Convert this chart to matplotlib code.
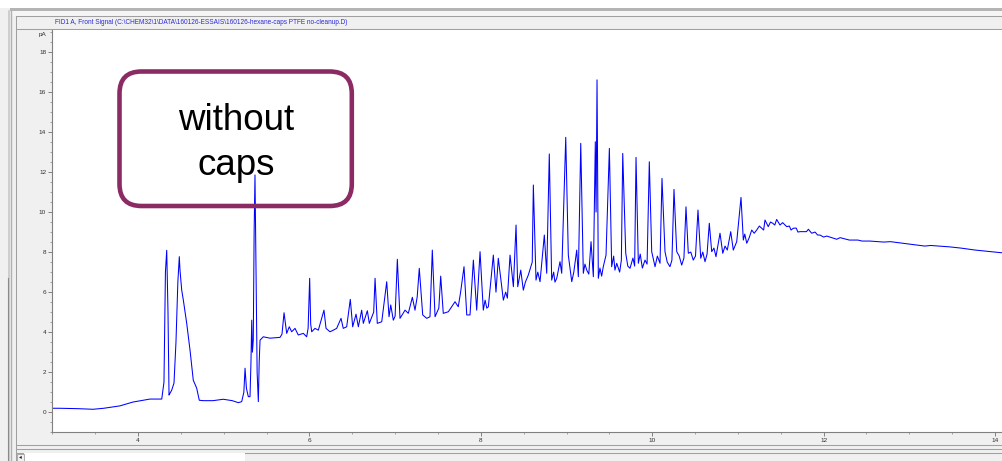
import numpy as np
import matplotlib
matplotlib.use("Agg")
import matplotlib.pyplot as plt
from matplotlib.patches import Rectangle, FancyBboxPatch
from matplotlib.lines import Line2D
from matplotlib.transforms import IdentityTransform
from matplotlib.ticker import MultipleLocator

plt.rcParams["font.family"] = ["Liberation Sans", "DejaVu Sans"]

# FID trace: retention time (min) and signal (pA), peaks and valleys
time_min = [
    3.00, 3.09, 3.30, 3.475, 3.60, 3.79, 3.94, 4.14, 4.277, 4.303,
    4.32, 4.335, 4.35, 4.362, 4.373, 4.393, 4.42, 4.443, 4.465, 4.482,
    4.49, 4.51, 4.529, 4.568, 4.607, 4.645, 4.685, 4.715, 4.762, 4.875,
    4.995, 5.10, 5.17, 5.21, 5.235, 5.249, 5.265, 5.287, 5.307, 5.318,
    5.327, 5.335, 5.345, 5.355, 5.365, 5.375, 5.390, 5.404, 5.414, 5.424,
    5.462, 5.54, 5.657, 5.68, 5.704, 5.735, 5.765, 5.793, 5.832, 5.87,
    5.929, 5.968, 5.985, 6.003, 6.015, 6.027, 6.065, 6.104, 6.132, 6.17,
    6.194, 6.24, 6.279, 6.318, 6.369, 6.395, 6.435, 6.477, 6.505, 6.544,
    6.571, 6.61, 6.629, 6.676, 6.699, 6.75, 6.766, 6.792, 6.844, 6.902,
    6.929, 6.949, 6.979, 7.00, 7.026, 7.057, 7.116, 7.154, 7.201, 7.232,
    7.258, 7.282, 7.322, 7.369, 7.407, 7.434, 7.466, 7.51, 7.532, 7.562,
    7.621, 7.66, 7.699, 7.737, 7.765, 7.804, 7.836, 7.874, 7.913, 7.952,
    7.991, 8.029, 8.088, 8.146, 8.177, 8.204, 8.263, 8.341, 8.38, 8.411,
    8.431, 8.466, 8.496, 8.554, 8.60, 8.613, 8.644, 8.691, 8.741, 8.769,
    8.799, 8.827, 8.886, 8.924, 8.944, 8.991, 9.021, 9.061, 9.119, 9.138,
    9.166, 9.196, 9.236, 9.286, 9.313, 9.336, 9.345, 9.356, 9.371, 9.429,
    9.461, 9.50, 9.527, 9.586, 9.656, 9.691, 9.741, 9.811, 9.838, 9.916,
    9.966, 9.994, 10.033, 10.091, 10.114, 10.149, 10.207, 10.254, 10.286, 10.344,
    10.394, 10.421, 10.479, 10.534, 10.566, 10.616, 10.666, 10.694, 10.744, 10.791,
    10.823, 10.876, 10.916, 10.946, 10.986, 11.036, 11.063, 11.103, 11.161, 11.19,
    11.219, 11.278, 11.316, 11.354, 11.406, 11.452, 11.491, 11.522, 11.569, 11.646,
    11.725, 11.80, 11.822, 11.861, 11.958, 12.036, 12.095, 12.153, 12.192, 12.30,
    12.54, 12.70, 12.89, 13.00, 13.18, 13.25, 13.47, 13.77, 14.09,
]
signal_pa = [
    0.20, 0.20, 0.18, 0.15, 0.20, 0.32, 0.51, 0.66, 0.66, 1.50,
    7.00, 8.09, 5.00, 0.86, 0.95, 1.10, 1.46, 3.50, 6.50, 7.77,
    7.10, 6.10, 5.60, 4.45, 3.10, 1.60, 1.20, 0.60, 0.58, 0.58,
    0.65, 0.58, 0.48, 0.53, 1.00, 2.20, 1.20, 0.78, 0.78, 2.50,
    4.60, 3.00, 3.60, 9.00, 11.85, 8.00, 2.00, 0.53, 2.50, 3.60,
    3.77, 3.70, 3.74, 3.90, 4.97, 3.94, 4.27, 4.02, 4.19, 3.86,
    3.94, 3.77, 4.20, 6.69, 4.40, 4.02, 4.19, 4.10, 4.52, 5.10,
    4.19, 4.02, 4.10, 4.19, 4.69, 4.19, 4.27, 5.64, 4.27, 4.90,
    4.27, 5.10, 4.44, 5.07, 4.44, 5.00, 6.69, 4.44, 4.52, 6.52,
    4.77, 5.36, 4.60, 4.80, 7.64, 4.69, 5.10, 4.94, 5.74, 5.10,
    5.77, 7.19, 4.86, 4.69, 4.77, 8.10, 4.77, 5.20, 6.80, 4.94,
    5.02, 5.27, 5.52, 5.27, 6.02, 7.27, 4.86, 4.86, 7.60, 5.10,
    8.02, 5.10, 5.27, 7.85, 6.00, 7.69, 5.60, 7.85, 6.27, 9.35,
    6.27, 7.10, 6.10, 6.85, 7.50, 11.35, 6.60, 6.52, 8.85, 6.94,
    12.90, 6.60, 6.69, 7.52, 6.94, 13.73, 7.85, 6.52, 8.10, 6.77,
    13.43, 6.94, 7.10, 8.52, 6.77, 13.51, 10.00, 16.60, 6.69, 7.27,
    7.85, 13.18, 7.27, 7.44, 12.93, 7.94, 7.19, 12.73, 7.44, 7.60,
    12.51, 8.02, 7.27, 7.44, 11.68, 8.02, 7.27, 11.13, 8.02, 7.35,
    10.26, 7.94, 7.60, 10.10, 7.69, 7.52, 9.44, 8.02, 7.77, 8.94,
    7.94, 8.10, 9.02, 8.10, 8.52, 10.73, 8.60, 8.44, 9.10, 8.94,
    9.10, 9.19, 9.60, 9.27, 9.44, 9.63, 9.35, 9.47, 9.27, 9.19,
    9.02, 9.02, 9.14, 8.94, 8.85, 8.80, 8.72, 8.64, 8.72, 8.60,
    8.55, 8.50, 8.46, 8.40, 8.30, 8.33, 8.26, 8.10, 7.96,
]

# extra readings of the noisy baseline between the peaks
noise_time = [
    8.05, 8.07, 8.29, 8.31, 8.52, 8.665, 8.85, 8.865, 9.085, 9.215,
    9.26, 9.39, 9.41, 9.55, 9.565, 9.62, 9.64, 9.715, 9.775, 9.795,
    9.86, 9.885, 9.94, 10.06, 10.175, 10.23, 10.315, 10.37, 10.45, 10.505,
    10.59, 10.64, 10.72, 10.85, 10.965, 11.08, 11.13, 11.25, 11.30, 11.38,
    11.43, 11.60, 11.62, 11.68, 11.70, 11.90, 11.93, 12.00, 12.40, 12.45,
    12.78, 13.10, 13.60,
]
noise_pa = [
    5.60, 5.20, 6.00, 5.70, 6.50, 7.00, 7.00, 6.50, 7.00, 7.40,
    6.90, 7.20, 6.80, 7.80, 7.10, 7.00, 7.60, 7.30, 7.70, 7.30,
    7.90, 7.20, 7.40, 7.80, 7.50, 7.60, 7.80, 7.70, 8.00, 7.80,
    8.00, 7.90, 8.20, 8.30, 8.30, 8.90, 8.70, 9.30, 9.10, 9.50,
    9.35, 9.30, 9.10, 9.20, 9.00, 9.00, 8.85, 8.75, 8.60, 8.55,
    8.52, 8.35, 8.20,
]

x_ticks = [4, 6, 8, 10, 12, 14]
y_ticks = [0, 2, 4, 6, 8, 10, 12, 14, 16, 18]
header = ("FID1 A, Front Signal (C:\\CHEM32\\1\\DATA\\160126-ESSAIS\\"
          "160126-hexane-caps PTFE no-cleanup.D)")

trace = sorted(zip(time_min + noise_time, signal_pa + noise_pa))
trace_t = [p[0] for p in trace]
trace_y = [p[1] for p in trace]

W, H = 1003, 461
fig = plt.figure(figsize=(W / 100, H / 100), dpi=100, facecolor="#f0f0f0")
PIX = IdentityTransform()


def rect(x0, y0, x1, y1, fc, ec="none", z=-1, lw=0.7):
    fig.add_artist(Rectangle((x0, H - y1), x1 - x0, y1 - y0, transform=PIX,
                             facecolor=fc, edgecolor=ec, lw=lw, zorder=z))


def seg(x0, y0, x1, y1, color="#a0a0a0", lw=0.75):
    fig.add_artist(Line2D([x0, x1], [H - y0, H - y1], transform=PIX,
                          color=color, lw=lw, zorder=-1))


# window frame around the signal panel
rect(0, 0, W, 7.5, "white")
rect(10, 7.5, W, 11, "#b4b4b4")
rect(11, 11, W, 16, "#f5f5f5")
seg(8.5, 11, 8.5, H, "#c8c8c8", 1.2)
seg(10.8, 11, 10.8, H, "#b0b0b0", 1.0)
seg(7.5, 278, 7.5, H, "#8a8a8a", 0.8)
seg(16, 16, W, 16)
seg(16, 16, 16, H)
seg(16, 29.3, W, 29.3)
seg(16, 444.5, W, 444.5)
seg(16, 448.5, W, 448.5)
seg(16, 452.5, W, 452.5)
rect(24, 453, 245, 461, "white")
rect(17, 453.5, 23.5, 460.5, "#f0f0f0", ec="#909090", lw=0.5)
fig.text(20.3, H - 457, "\u25c2", transform=PIX, fontsize=4,
         ha="center", va="center", color="#202020",
         family=["DejaVu Sans"])

fig.text(55, H - 22.5, header, transform=PIX, fontsize=4.7,
         color="#2b2bd6", ha="left", va="center")

ax = fig.add_axes([52.3 / W, (H - 432.3) / H, (W - 52.3) / W, (432.3 - 30) / H])
ax.set_facecolor("white")
ax.plot(trace_t, trace_y, color="#0000ff", lw=0.75, zorder=2)

ax.set_xlim(3.0, 14.093)
ax.set_ylim(-1.0, 19.09)
ax.set_xticks(x_ticks)
ax.set_yticks(y_ticks)
ax.xaxis.set_minor_locator(MultipleLocator(0.5))
ax.yaxis.set_minor_locator(MultipleLocator(0.5))
for side in ["top", "right"]:
    ax.spines[side].set_visible(False)
for side in ["left", "bottom"]:
    ax.spines[side].set_color("#808080")
    ax.spines[side].set_linewidth(0.8)
ax.tick_params(which="major", direction="out", length=2.9, width=0.6,
               color="#707070", labelsize=4.6, labelcolor="#303030", pad=1.5)
ax.tick_params(which="minor", direction="out", length=1.6, width=0.5,
               color="#808080")

fig.text(46, H - 34.3, "pA", transform=PIX, fontsize=4.6,
         color="#303030", ha="right", va="center")

# callout box
fig.add_artist(FancyBboxPatch((119.5, H - 206), 232.3, 134.5, transform=PIX,
                              boxstyle="round,pad=0,rounding_size=22",
                              facecolor="none", edgecolor="#8c2b63",
                              lw=3.3, zorder=3))
fig.text(236, H - 130, "without", transform=PIX, fontsize=26.5,
         ha="center", va="baseline", color="black", zorder=4)
fig.text(236, H - 175, "caps", transform=PIX, fontsize=26.5,
         ha="center", va="baseline", color="black", zorder=4)

fig.savefig("out.png", dpi=100, facecolor=fig.get_facecolor())
